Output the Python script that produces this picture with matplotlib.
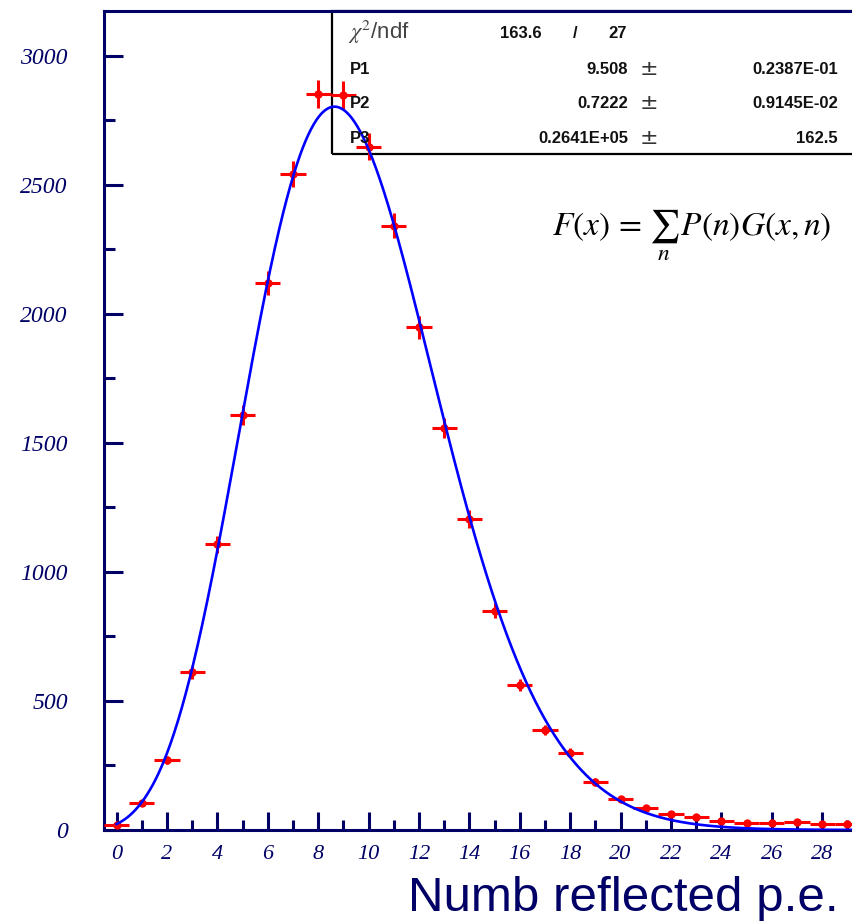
import numpy as np
import matplotlib.pyplot as plt
from matplotlib.patches import Rectangle
from matplotlib.ticker import MultipleLocator
from math import lgamma

plt.rcParams['mathtext.fontset'] = 'stix'

NAVY = '#000066'

# histogram contents, one bin per p.e.
pe_bins = list(range(30))
counts = [19, 106, 271, 611, 1107, 1608, 2119, 2543, 2853, 2849,
          2648, 2341, 1948, 1557, 1205, 850, 562, 388, 300, 186,
          121, 86, 62, 52, 36, 28, 26, 30, 22, 22]

# fit results shown in the stats box
par_names = ['P1', 'P2', 'P3']
par_values = [9.508, 0.7222, 0.2641e5]
par_value_text = ['9.508', '0.7222', '0.2641E+05']
par_error_text = ['0.2387E-01', '0.9145E-02', '162.5']
chi2_text = '163.6'
ndf_text = '27'


def fit_func(x, mu, sig1, norm):
    # Poisson number of p.e. smeared by a gaussian of width sig1*sqrt(n)
    n = np.arange(1, 60)
    pn = np.exp(n * np.log(mu) - mu - np.array([lgamma(k + 1) for k in n]))
    sig = sig1 * np.sqrt(n)
    g = np.exp(-0.5 * ((x[:, None] - n) / sig) ** 2) / (np.sqrt(2 * np.pi) * sig)
    return norm * (g * pn).sum(axis=1)


W, H = 852, 923
fig = plt.figure(figsize=(W / 100, H / 100), dpi=100)


def fx(px):
    return px / W


def fy(py):
    return 1 - py / H


ax = fig.add_axes([fx(104), fy(830), 756 / W, 819 / H])
ax.set_xlim(-0.5, 29.5)
ax.set_ylim(0, 3174)

for side in ['left', 'bottom', 'top']:
    ax.spines[side].set_color(NAVY)
    ax.spines[side].set_linewidth(2.2)
ax.spines['right'].set_visible(False)

ax.xaxis.set_major_locator(MultipleLocator(2))
ax.xaxis.set_minor_locator(MultipleLocator(1))
ax.yaxis.set_major_locator(MultipleLocator(500))
ax.yaxis.set_minor_locator(MultipleLocator(250))
ax.set_xticks(range(0, 30, 2))
ax.set_yticks(range(0, 3001, 500))

ax.tick_params(axis='x', which='major', direction='in', length=13, width=2.2,
               color=NAVY, pad=11, labelsize=16, labelcolor=NAVY)
ax.tick_params(axis='x', which='minor', direction='in', length=7, width=2.2, color=NAVY)
ax.tick_params(axis='y', which='major', direction='in', length=14, width=2.2,
               color=NAVY, pad=26, labelsize=17, labelcolor=NAVY)
ax.tick_params(axis='y', which='minor', direction='in', length=8, width=2.2, color=NAVY)
for lab in ax.get_xticklabels() + ax.get_yticklabels():
    lab.set_fontfamily('Liberation Serif')
    lab.set_fontstyle('italic')

# data with sqrt(N) errors and half-bin x errors
ax.errorbar(pe_bins, counts, xerr=0.5, yerr=np.sqrt(counts), fmt='o',
            color='#ff0000', ms=5, elinewidth=2.2, capsize=0, zorder=3,
            clip_on=False)

xs = np.linspace(0, 29.5, 800)
ax.plot(xs, fit_func(xs, *par_values), color='#0000ff', lw=1.9, zorder=4)

# stats box
ax.add_artist(Rectangle((fx(332), fy(154)), fx(900) - fx(332), fy(11) - fy(154),
                        transform=fig.transFigure, fill=False, edgecolor='black',
                        lw=1.6, clip_on=False, zorder=1))

box_font = dict(family='Liberation Sans', fontsize=12, weight='bold', color='#111111')
fig.text(fx(348), fy(39), r'$\chi^2$/ndf', family='Liberation Sans', fontsize=16,
         color='#444444', ha='left', va='baseline')
fig.text(fx(542), fy(38), chi2_text, ha='right', va='baseline', **box_font)
fig.text(fx(575), fy(38), '/', ha='center', va='baseline', **box_font)
fig.text(fx(627), fy(38), ndf_text, ha='right', va='baseline', **box_font)

row_base = [74, 108, 143]
for name, val, err, yb in zip(par_names, par_value_text, par_error_text, row_base):
    fig.text(fx(350), fy(yb), name, ha='left', va='baseline', **box_font)
    fig.text(fx(628), fy(yb), val, ha='right', va='baseline', **box_font)
    fig.text(fx(649), fy(yb + 1), '\u00b1', ha='center', va='baseline',
             family='DejaVu Sans', fontsize=16, color='#333333')
    fig.text(fx(838), fy(yb), err, ha='right', va='baseline', **box_font)

fig.text(fx(552), fy(235), r'$F(x)\,=\,\sum_{n}\,P(n)G(x,n)$', fontsize=24,
         color='black', ha='left', va='baseline')

fig.text(fx(408), fy(911), 'Numb reflected p.e.', family='Liberation Sans',
         fontsize=35.5, color=NAVY, ha='left', va='baseline')

fig.savefig('out.png', dpi=100)
